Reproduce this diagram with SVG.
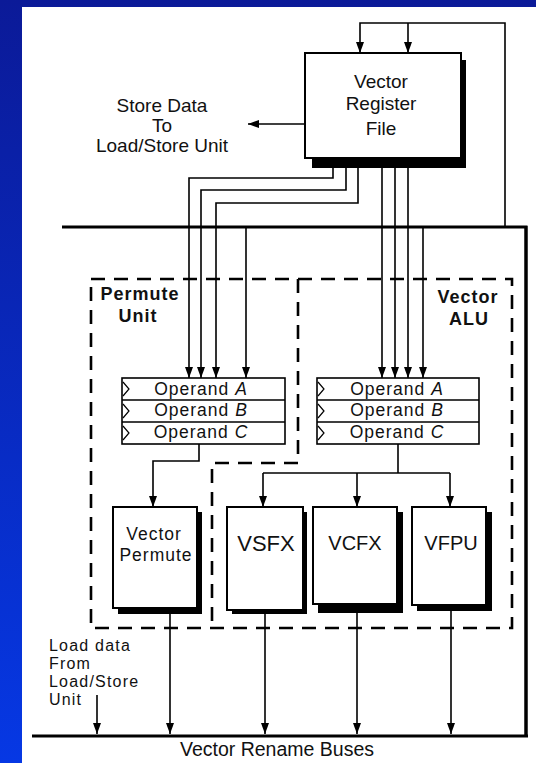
<svg xmlns="http://www.w3.org/2000/svg" width="536" height="763" viewBox="0 0 536 763">
<defs>
<linearGradient id="bg" x1="0" y1="0" x2="0" y2="1">
<stop offset="0" stop-color="#0b1a98"/>
<stop offset="1" stop-color="#0638e4"/>
</linearGradient>
<marker id="arr" viewBox="0 0 11 8" refX="11" refY="4" markerWidth="11" markerHeight="8" markerUnits="userSpaceOnUse" orient="auto">
<path d="M0,0 L11,4 L0,8 z" fill="#000"/>
</marker>
<style>
.t{font-family:"Liberation Sans",Arial,sans-serif;fill:#111;}
.lbl{font-size:19px;}
.ld{font-size:16px;letter-spacing:1.2px;}
.bold{font-size:18px;font-weight:bold;letter-spacing:1px;}
.op{font-size:17.5px;letter-spacing:1px;}
.box{fill:#fff;stroke:#000;stroke-width:2;}
.sh{fill:#000;}
.ln{fill:none;stroke:#000;stroke-width:1.6;}
.bus{fill:none;stroke:#000;stroke-width:3;}
.dash{fill:none;stroke:#000;stroke-width:2.6;stroke-dasharray:14 9;}
.chev{fill:none;stroke:#000;stroke-width:1.2;}
</style>
</defs>
<rect x="0" y="0" width="536" height="763" fill="url(#bg)"/>
<rect x="22" y="7" width="514" height="756" fill="#fff"/>

<g id="dashed-units">
<path class="dash" d="M91,279 H512 V628 H91 Z"/>
<path class="dash" d="M298,279 V463 H212 V628"/>
</g>

<g id="connectors">
<path class="bus" d="M62,227 H526 V736" stroke-width="2.6"/>
<path class="bus" d="M526,226 V736" stroke-width="3.5"/>
<path class="bus" d="M32,736 H528" stroke-width="3.5"/>
<path class="ln" d="M505,227 V23 H360 V53" marker-end="url(#arr)"/>
<path class="ln" d="M408,23 V53" marker-end="url(#arr)"/>
<path class="ln" d="M305,124 H248" marker-end="url(#arr)"/>
<path class="ln" d="M333,165 V178 H189 V378" marker-end="url(#arr)"/>
<path class="ln" d="M346,165 V190 H201 V378" marker-end="url(#arr)"/>
<path class="ln" d="M358,165 V203 H216 V378" marker-end="url(#arr)"/>
<path class="ln" d="M246,227 V378" marker-end="url(#arr)"/>
<path class="ln" d="M382,165 V378" marker-end="url(#arr)"/>
<path class="ln" d="M395,165 V378" marker-end="url(#arr)"/>
<path class="ln" d="M408,165 V378" marker-end="url(#arr)"/>
<path class="ln" d="M423,227 V378" marker-end="url(#arr)"/>
<path class="ln" d="M199,444 V461 H153 V507" marker-end="url(#arr)"/>
<path class="ln" d="M398,444 V473"/>
<path class="ln" d="M263,473 H450"/>
<path class="ln" d="M263,473 V507" marker-end="url(#arr)"/>
<path class="ln" d="M357,473 V507" marker-end="url(#arr)"/>
<path class="ln" d="M450,473 V507" marker-end="url(#arr)"/>
<path class="ln" d="M170,614 V734" marker-end="url(#arr)"/>
<path class="ln" d="M265,614 V734" marker-end="url(#arr)"/>
<path class="ln" d="M357,613 V734" marker-end="url(#arr)"/>
<path class="ln" d="M451,611 V734" marker-end="url(#arr)"/>
<path class="ln" d="M97,695 V734" marker-end="url(#arr)"/>
</g>

<g id="store-label">
<text class="t lbl" text-anchor="middle" x="162" y="112">Store Data</text>
<text class="t lbl" text-anchor="middle" x="162" y="132">To</text>
<text class="t lbl" text-anchor="middle" x="162" y="152">Load/Store Unit</text>
</g>

<g id="register-file">
<rect class="sh" x="312" y="60" width="154" height="108"/>
<rect class="box" x="305" y="53" width="156" height="105"/>
<text class="t lbl" text-anchor="middle" x="381" y="88">Vector</text>
<text class="t lbl" text-anchor="middle" x="381" y="110">Register</text>
<text class="t lbl" text-anchor="middle" x="381" y="135">File</text>
</g>

<g id="permute-unit-label">
<text class="t bold" text-anchor="middle" x="140" y="300">Permute</text>
<text class="t bold" text-anchor="middle" x="138" y="322">Unit</text>
</g>

<g id="vector-alu-label">
<text class="t bold" text-anchor="middle" x="468" y="303">Vector</text>
<text class="t bold" text-anchor="middle" x="469" y="325">ALU</text>
</g>

<g id="permute-operands">
<rect x="122" y="378" width="163" height="66" fill="#fff" stroke="#000" stroke-width="1.6"/>
<path class="ln" d="M122,400 H285 M122,422 H285"/>
<path class="chev" d="M123,382 L129,389 L123,396 M123,404 L129,411 L123,418 M123,426 L129,433 L123,440"/>
<text class="t op" text-anchor="middle" x="201" y="395">Operand <tspan font-style="italic">A</tspan></text>
<text class="t op" text-anchor="middle" x="201" y="416">Operand <tspan font-style="italic">B</tspan></text>
<text class="t op" text-anchor="middle" x="201" y="438">Operand <tspan font-style="italic">C</tspan></text>
</g>

<g id="alu-operands">
<rect x="317" y="378" width="162" height="66" fill="#fff" stroke="#000" stroke-width="1.6"/>
<path class="ln" d="M317,400 H479 M317,422 H479"/>
<path class="chev" d="M318,382 L324,389 L318,396 M318,404 L324,411 L318,418 M318,426 L324,433 L318,440"/>
<text class="t op" text-anchor="middle" x="397" y="395">Operand <tspan font-style="italic">A</tspan></text>
<text class="t op" text-anchor="middle" x="397" y="416">Operand <tspan font-style="italic">B</tspan></text>
<text class="t op" text-anchor="middle" x="397" y="438">Operand <tspan font-style="italic">C</tspan></text>
</g>

<g id="vector-permute">
<rect class="sh" x="118" y="512" width="84" height="102"/>
<rect class="box" x="113" y="507" width="84" height="101"/>
<text class="t op" text-anchor="middle" x="154" y="540">Vector</text>
<text class="t op" text-anchor="middle" x="156" y="561">Permute</text>
</g>

<g id="vsfx">
<rect class="sh" x="232" y="512" width="75" height="102"/>
<rect class="box" x="227" y="507" width="76" height="103"/>
<text class="t" font-size="22" text-anchor="middle" x="266" y="551">VSFX</text>
</g>

<g id="vcfx">
<rect class="sh" x="318" y="512" width="85" height="101"/>
<rect class="box" x="313" y="507" width="84" height="97"/>
<text class="t" font-size="20" text-anchor="middle" x="355" y="550">VCFX</text>
</g>

<g id="vfpu">
<rect class="sh" x="417" y="512" width="75" height="99"/>
<rect class="box" x="412" y="507" width="74" height="98"/>
<text class="t" font-size="20" text-anchor="middle" x="451" y="550">VFPU</text>
</g>

<g id="load-label">
<text class="t ld" x="49" y="651">Load data</text>
<text class="t ld" x="49" y="669">From</text>
<text class="t ld" x="49" y="687">Load/Store</text>
<text class="t ld" x="49" y="705">Unit</text>
</g>

<g id="bus-label">
<text class="t" font-size="19.5" text-anchor="middle" x="277" y="756">Vector Rename Buses</text>
</g>
</svg>
